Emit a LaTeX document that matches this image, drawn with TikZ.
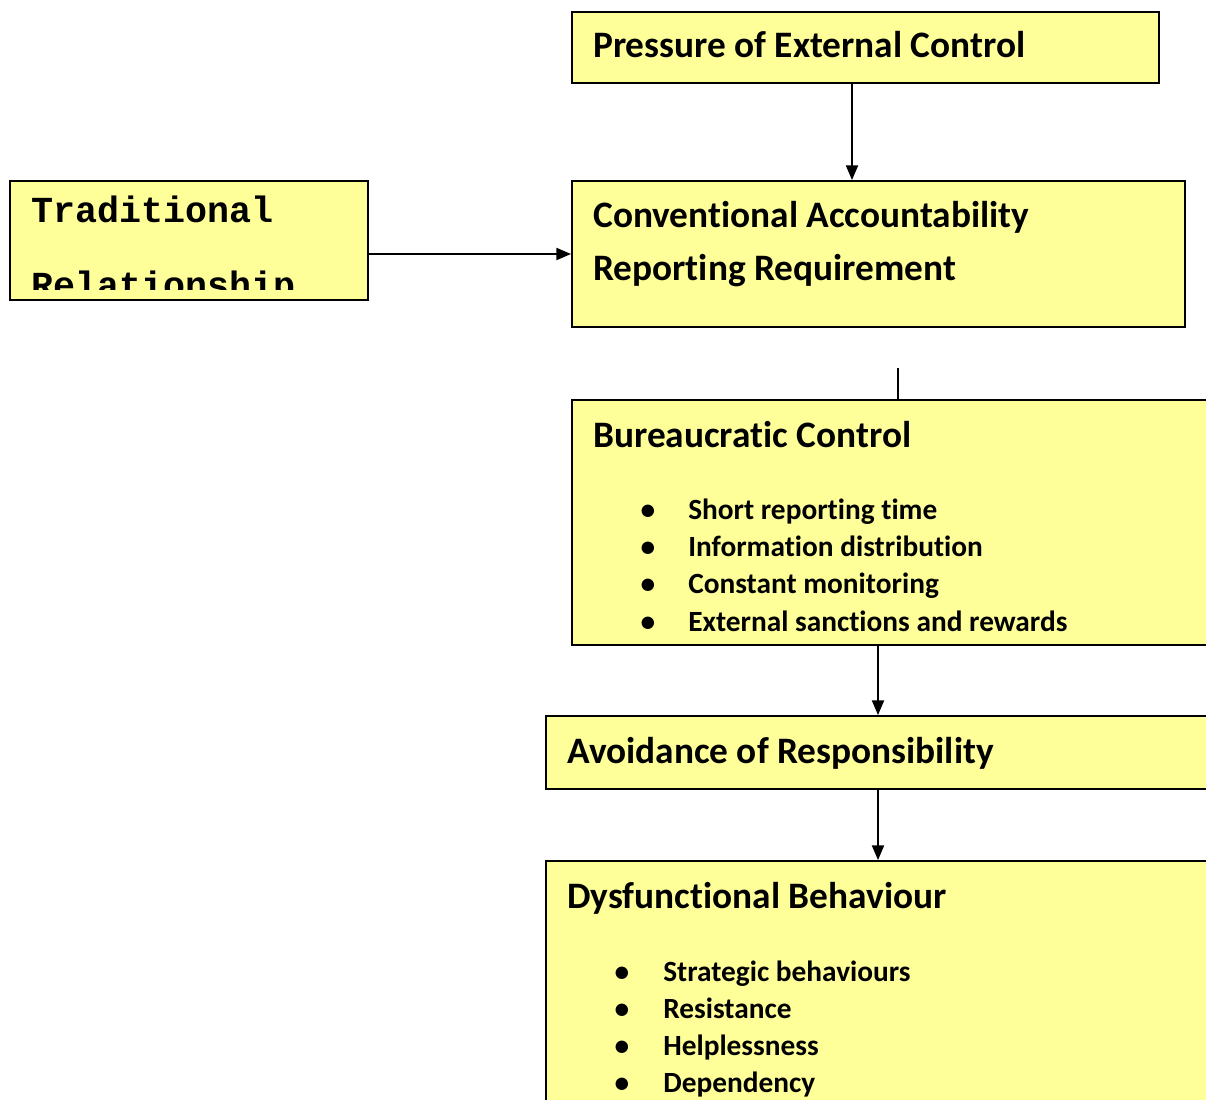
\documentclass[tikz,border=0pt]{standalone}
\usepackage{fontspec}
\setmainfont{Carlito}[Ligatures=NoCommon]
\newfontfamily\monof{Liberation Mono}
\usetikzlibrary{fit,arrows.meta}
\definecolor{boxyellow}{HTML}{FFFF99}
\begin{document}
\begin{tikzpicture}[x=0.75pt,y=-0.75pt,
  box/.style={draw=black, line width=1.4pt, fill=boxyellow, inner sep=0pt},
  titletext/.style={anchor=base west, inner sep=0pt, font=\fontsize{28}{32}\selectfont\bfseries},
  itemtext/.style={anchor=base west, inner sep=0pt, font=\fontsize{22}{26}\selectfont\bfseries},
  dotmark/.style={anchor=base, inner sep=0pt, font=\fontsize{22}{26}\selectfont\bfseries},
  monotext/.style={anchor=base west, inner sep=0pt, font=\fontsize{27.5}{30}\selectfont\monof\bfseries},
  conn/.style={line width=1.4pt},
  arr/.style={line width=1.4pt, -{Triangle[length=11pt,width=9pt]}}]
\useasboundingbox (0,0) rectangle (1206,1099);
\clip (0,0) rectangle (1206,1099);
\fill[white] (0,0) rectangle (1206,1099);

% boxes
\node[box, fit={(572,12) (1159,83)}] (pressure) {};
\node[box, fit={(572,181) (1185,327)}] (conv) {};
\node[box, fit={(10,181) (368,300)}] (trad) {};
\node[box, fit={(572,400) (1240,645)}] (bureau) {};
\node[box, fit={(546,716) (1240,789)}] (avoid) {};
\node[box, fit={(546,861) (1240,1140)}] (dysf) {};

% texts
\node[titletext] (t1) at (593,58) {Pressure of External Control};
\node[titletext] (t2) at (593,227) {Conventional Accountability};
\node[titletext] (t3) at (593,280) {Reporting Requirement};
\begin{scope}
  \clip (12,183) rectangle (366,289);
  \node[monotext] (t4) at (31,222) {Traditional};
  \node[monotext] (t5) at (31,297) {Relationship};
\end{scope}
\node[titletext] (t6) at (593,447) {Bureaucratic Control};
\foreach \y/\s [count=\i] in {519/Short reporting time,556/Information distribution,593/Constant monitoring,631/External sanctions and rewards}{
  \node[dotmark] (bd\i) at (648,\y) {•};
  \node[itemtext] (bi\i) at (688,\y) {\s};
}
\node[titletext] (t7) at (567,763) {Avoidance of Responsibility};
\node[titletext] (t8) at (567,908) {Dysfunctional Behaviour};
\foreach \y/\s [count=\i] in {981/Strategic behaviours,1018/Resistance,1055/Helplessness,1092/Dependency}{
  \node[dotmark] (dd\i) at (622,\y) {•};
  \node[itemtext] (di\i) at (663,\y) {\s};
}

% connectors
\coordinate (stub) at (898,368);
\draw[arr] (pressure.south -| 852,0) -- (conv.north -| 852,0);
\draw[arr] (trad.east |- conv.west) -- (conv.west);
\draw[conn] (stub) -- (stub |- bureau.north);
\draw[arr] (bureau.south -| 878,0) -- (avoid.north -| 878,0);
\draw[arr] (avoid.south -| 878,0) -- (dysf.north -| 878,0);
\end{tikzpicture}
\end{document}
